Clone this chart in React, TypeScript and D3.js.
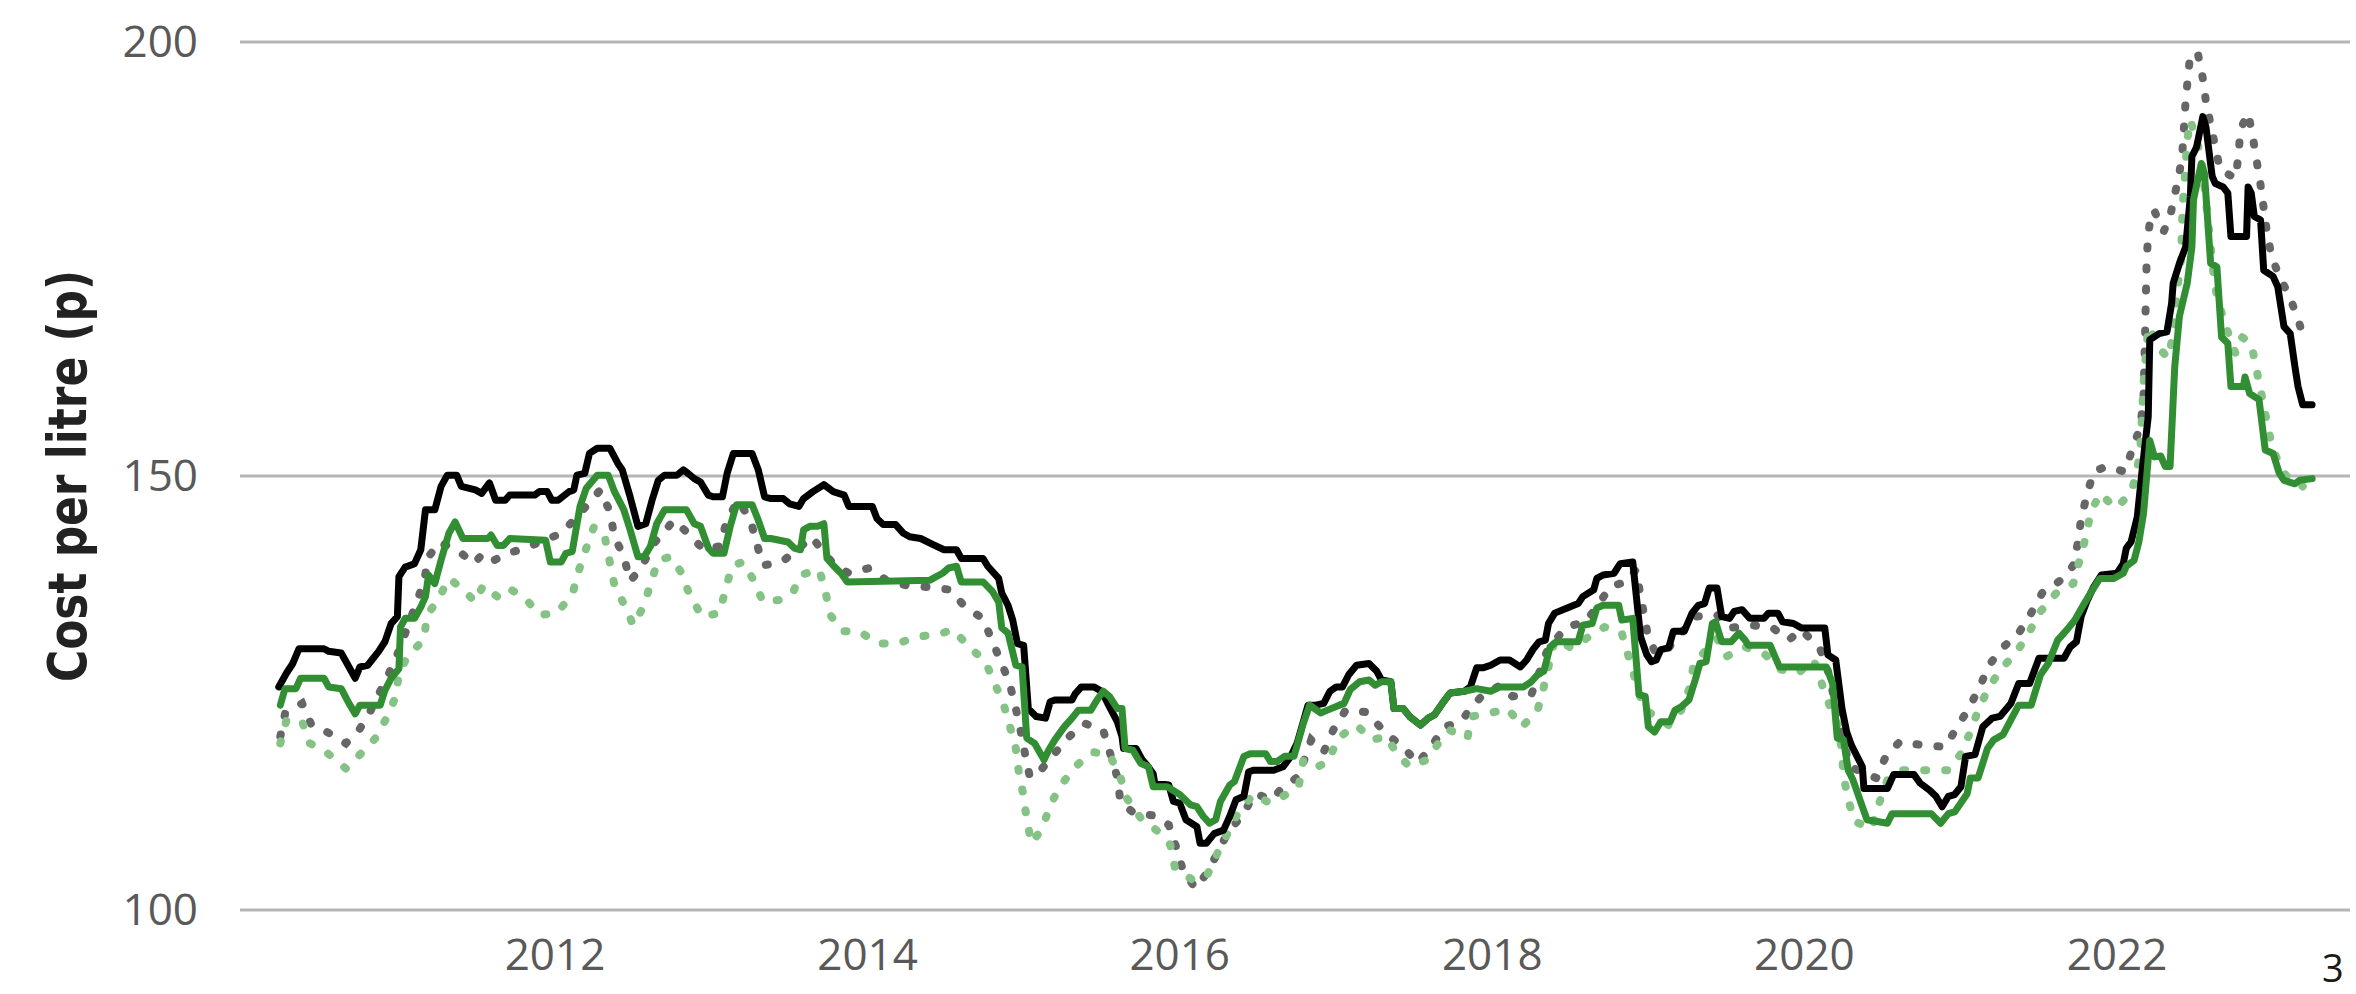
import React from 'react';
import * as d3 from 'd3';

// [decimal year, pence per litre]
const blackLine: [number, number][] = [
  [2010.23,125.7],[2010.28,127.3],[2010.32,128.4],[2010.36,130.1],[2010.52,130.1],[2010.55,129.8],[2010.63,129.6],[2010.68,128.0],[2010.72,126.7],[2010.75,128.0],[2010.80,128.2],[2010.87,129.8],[2010.91,130.9],[2010.95,133.0],[2010.99,133.8],[2011.00,138.4],[2011.04,139.5],[2011.10,139.9],[2011.14,141.5],[2011.17,146.1],[2011.23,146.1],[2011.27,148.8],[2011.31,150.1],[2011.37,150.1],[2011.40,148.8],[2011.49,148.4],[2011.53,148.0],[2011.58,149.2],[2011.62,147.2],[2011.68,147.2],[2011.71,147.8],[2011.87,147.8],[2011.90,148.2],[2011.95,148.2],[2011.98,147.2],[2012.02,147.2],[2012.09,148.2],[2012.12,148.4],
  [2012.14,150.1],[2012.19,150.3],[2012.22,152.6],[2012.27,153.2],[2012.35,153.2],[2012.40,151.5],[2012.43,150.7],[2012.48,147.6],[2012.53,144.2],[2012.58,144.5],[2012.62,147.2],[2012.66,149.5],[2012.70,150.1],[2012.78,150.1],[2012.82,150.7],[2012.85,150.3],[2012.89,149.7],[2012.93,149.3],[2012.98,147.8],[2013.01,147.6],[2013.07,147.6],[2013.10,150.3],[2013.14,152.6],[2013.26,152.6],[2013.30,150.7],[2013.34,147.6],[2013.38,147.4],[2013.46,147.4],[2013.50,146.8],[2013.56,146.5],[2013.59,147.4],[2013.65,148.2],[2013.72,149.0],[2013.78,148.2],[2013.85,147.8],[2013.88,146.5],[2014.03,146.5],[2014.06,145.1],[2014.10,144.4],[2014.18,144.4],[2014.23,143.4],[2014.27,143.0],[2014.34,142.8],
  [2014.42,142.1],[2014.49,141.5],[2014.57,141.5],[2014.60,140.5],[2014.74,140.5],[2014.77,139.6],[2014.84,138.2],[2014.86,136.5],[2014.90,135.1],[2014.93,133.4],[2014.96,130.7],[2015.00,130.5],[2015.03,123.2],[2015.08,122.3],[2015.14,122.1],[2015.17,124.0],[2015.20,124.2],[2015.31,124.2],[2015.33,124.9],[2015.37,125.7],[2015.45,125.7],[2015.50,125.2],[2015.55,123.4],[2015.60,121.7],[2015.63,120.0],[2015.64,118.6],[2015.72,118.6],[2015.76,117.3],[2015.79,116.7],[2015.83,115.7],[2015.84,114.6],[2015.93,114.4],[2015.96,112.5],[2016.00,112.3],[2016.04,110.4],[2016.11,109.6],[2016.13,107.7],[2016.17,107.7],[2016.22,108.8],[2016.28,109.2],[2016.32,110.8],[2016.36,112.7],[2016.41,113.1],[2016.44,115.9],[2016.47,116.1],[2016.60,116.1],
  [2016.66,116.5],[2016.71,117.7],[2016.75,119.2],[2016.82,123.6],[2016.87,123.6],[2016.92,123.8],[2016.96,125.2],[2017.00,125.7],[2017.04,125.7],[2017.08,127.1],[2017.13,128.2],[2017.21,128.4],[2017.26,127.5],[2017.29,126.5],[2017.35,126.3],[2017.37,123.2],[2017.43,123.2],[2017.47,122.3],[2017.54,121.3],[2017.59,122.1],[2017.63,122.5],[2017.68,123.8],[2017.73,125.0],[2017.82,125.2],[2017.86,125.7],[2017.90,127.9],[2017.94,127.9],[2017.99,128.2],[2018.05,128.8],[2018.11,128.8],[2018.18,128.0],[2018.22,128.8],[2018.26,130.0],[2018.30,130.9],[2018.34,131.1],[2018.36,133.0],[2018.40,134.2],[2018.48,134.8],[2018.55,135.3],[2018.58,136.1],[2018.65,136.9],[2018.67,138.2],[2018.71,138.6],[2018.78,138.8],[2018.82,139.9],[2018.90,140.1],
  [2018.95,131.5],[2018.99,129.4],[2019.02,128.6],[2019.05,128.8],[2019.08,130.0],[2019.13,130.2],[2019.16,132.1],[2019.23,132.1],[2019.28,134.2],[2019.32,135.1],[2019.36,135.3],[2019.39,137.1],[2019.44,137.1],[2019.47,133.8],[2019.52,133.6],[2019.55,134.4],[2019.60,134.6],[2019.65,133.6],[2019.74,133.6],[2019.77,134.2],[2019.83,134.2],[2019.86,133.2],[2019.93,133.0],[2019.98,132.5],[2020.13,132.5],[2020.15,129.4],[2020.20,128.8],[2020.24,123.2],[2020.27,120.5],[2020.30,119.0],[2020.37,116.5],[2020.38,114.0],[2020.53,114.0],[2020.57,115.6],[2020.70,115.6],[2020.74,114.6],[2020.80,113.8],[2020.84,113.1],[2020.88,111.9],[2020.92,113.1],[2020.96,113.3],[2021.00,114.2],
  [2021.03,117.7],[2021.09,117.9],[2021.14,121.1],[2021.20,122.1],[2021.25,122.3],[2021.32,123.8],[2021.37,126.1],[2021.44,126.1],[2021.50,129.0],[2021.66,129.0],[2021.70,130.3],[2021.74,130.9],[2021.77,133.8],[2021.81,135.7],[2021.85,137.2],[2021.90,138.6],[2022.00,138.8],[2022.04,139.9],[2022.06,141.7],[2022.09,142.4],[2022.13,145.3],[2022.16,150.5],
  [2022.20,156.8],[2022.21,165.7],[2022.27,166.4],[2022.32,166.6],[2022.35,169.9],[2022.36,172.2],[2022.40,174.5],[2022.44,176.4],[2022.47,182.2],[2022.48,186.8],[2022.51,187.9],[2022.55,191.4],[2022.57,190.2],[2022.61,184.5],[2022.63,183.7],[2022.68,183.3],[2022.71,182.6],[2022.73,177.6],[2022.83,177.6],[2022.84,183.3],[2022.86,182.6],[2022.88,179.9],[2022.92,179.5],[2022.94,173.7],[2023.00,173.0],[2023.03,171.8],[2023.07,167.2],[2023.11,166.4],[2023.14,162.6],[2023.16,160.3],[2023.19,158.2],[2023.25,158.2]
];

const greenLine: [number, number][] = [
  [2010.24,123.6],[2010.27,125.5],[2010.34,125.5],[2010.37,126.7],[2010.52,126.7],[2010.55,125.7],[2010.63,125.5],[2010.68,123.8],[2010.72,122.6],[2010.75,123.6],[2010.88,123.6],[2010.91,125.3],[2010.95,126.7],[2011.00,127.8],[2011.01,132.6],[2011.04,133.6],[2011.10,133.6],[2011.14,134.9],[2011.17,136.1],[2011.19,138.6],[2011.23,137.6],[2011.27,140.3],[2011.32,143.4],[2011.36,144.7],[2011.41,142.8],[2011.57,142.8],[2011.59,143.2],[2011.63,142.0],[2011.67,142.0],[2011.71,142.8],[2011.94,142.6],[2011.97,140.1],[2012.04,140.1],[2012.07,141.1],[2012.11,141.3],
  [2012.16,146.5],[2012.20,148.6],[2012.27,150.1],[2012.34,150.1],[2012.38,148.2],[2012.44,146.1],[2012.48,143.8],[2012.53,140.7],[2012.57,140.7],[2012.61,141.9],[2012.65,144.5],[2012.70,146.1],[2012.84,146.1],[2012.89,144.5],[2012.93,144.2],[2012.98,141.7],[2013.01,141.1],[2013.08,141.1],[2013.12,144.2],[2013.16,146.7],[2013.26,146.7],[2013.30,144.9],[2013.34,142.8],[2013.38,142.8],[2013.49,142.4],[2013.53,141.7],[2013.57,141.5],[2013.59,143.8],[2013.63,144.2],[2013.68,144.2],[2013.72,144.5],[2013.74,140.5],[2013.78,139.7],[2013.83,138.8],[2013.87,137.8],[2014.40,138.0],
  [2014.48,138.8],[2014.52,139.4],[2014.57,139.6],[2014.60,137.8],[2014.74,137.8],[2014.80,136.7],[2014.84,135.5],[2014.86,132.5],[2014.90,131.9],[2014.95,128.2],[2014.99,128.0],[2015.02,119.8],[2015.07,119.2],[2015.13,117.3],[2015.16,118.4],[2015.20,119.6],[2015.26,121.1],[2015.31,122.1],[2015.35,123.0],[2015.43,123.0],[2015.47,124.2],[2015.51,125.2],[2015.55,124.6],[2015.60,123.2],[2015.63,123.2],[2015.65,118.6],[2015.70,118.4],[2015.75,116.9],[2015.80,116.5],[2015.83,114.2],[2015.92,114.2],[2016.00,113.3],[2016.07,112.1],[2016.11,111.9],[2016.15,110.8],[2016.19,110.0],[2016.23,110.4],[2016.26,112.5],[2016.32,114.4],[2016.35,114.8],[2016.41,117.7],[2016.45,118.0],[2016.55,118.0],[2016.58,117.1],
  [2016.62,117.1],[2016.67,117.7],[2016.73,117.7],[2016.76,119.6],[2016.79,121.5],[2016.83,123.6],[2016.90,122.7],[2016.94,123.0],[2017.02,123.6],[2017.05,123.8],[2017.09,125.4],[2017.15,126.3],[2017.21,126.5],[2017.25,125.9],[2017.29,126.3],[2017.35,126.3],[2017.37,123.2],[2017.43,123.2],[2017.47,122.3],[2017.54,121.3],[2017.59,122.1],[2017.63,122.5],[2017.68,123.8],[2017.73,125.0],[2017.82,125.2],[2017.90,125.5],[2017.99,125.2],[2018.05,125.7],[2018.20,125.7],[2018.25,126.3],[2018.29,127.1],[2018.33,127.5],[2018.37,130.3],[2018.41,130.9],[2018.55,130.9],[2018.58,132.8],[2018.64,133.0],[2018.67,134.8],[2018.71,135.1],[2018.81,135.1],[2018.83,133.4],[2018.90,133.6],
  [2018.94,124.8],[2018.98,124.6],[2019.00,121.1],[2019.04,120.5],[2019.08,121.7],[2019.14,121.7],[2019.17,123.0],[2019.21,123.4],[2019.26,124.2],[2019.30,126.5],[2019.33,128.4],[2019.37,128.6],[2019.41,133.0],[2019.43,133.2],[2019.47,130.9],[2019.53,130.9],[2019.58,131.9],[2019.62,131.1],[2019.64,130.5],[2019.78,130.5],[2019.84,128.0],[2020.14,128.0],[2020.18,126.1],[2020.21,119.8],[2020.25,119.6],[2020.28,116.1],[2020.31,115.0],[2020.37,111.9],[2020.40,110.4],[2020.53,110.0],[2020.56,111.1],[2020.81,111.1],[2020.87,110.0],[2020.92,111.1],[2020.96,111.3],
  [2021.04,113.4],[2021.06,115.2],[2021.11,115.2],[2021.17,118.6],[2021.21,119.6],[2021.27,120.2],[2021.32,121.9],[2021.37,123.6],[2021.45,123.6],[2021.51,127.1],[2021.56,128.4],[2021.62,131.1],[2021.68,132.3],[2021.73,133.4],[2021.79,135.3],[2021.83,136.5],[2021.89,138.2],[2021.98,138.2],[2022.04,138.8],[2022.06,139.6],[2022.11,140.3],[2022.14,142.4],[2022.17,145.7],[2022.21,154.1],[2022.24,152.2],[2022.28,152.3],[2022.31,151.1],[2022.34,151.1],
  [2022.37,162.6],[2022.40,168.4],[2022.45,172.2],[2022.48,176.4],[2022.49,181.8],[2022.54,186.0],[2022.56,184.9],[2022.60,174.5],[2022.64,174.1],[2022.67,166.0],[2022.71,165.3],[2022.73,160.3],[2022.81,160.3],[2022.82,161.4],[2022.85,159.5],[2022.91,158.8],[2022.95,153.0],[2023.00,152.6],[2023.04,150.3],[2023.07,149.5],[2023.14,149.1],[2023.17,149.5],[2023.25,149.7]
];

const greyDotted: [number, number][] = [
  [2010.24,120.0],[2010.27,122.6],[2010.38,123.8],[2010.44,121.3],[2010.54,120.5],[2010.66,119.2],[2010.75,120.9],[2010.82,123.0],[2010.95,127.8],[2011.00,129.9],[2011.11,135.3],[2011.16,137.8],[2011.19,140.7],[2011.26,142.4],[2011.40,141.1],[2011.48,139.9],[2011.54,141.1],[2011.61,140.3],[2011.70,141.1],[2011.81,141.7],[2012.04,143.4],[2012.13,145.1],
  [2012.29,148.4],[2012.35,145.9],[2012.38,143.0],[2012.44,140.7],[2012.48,137.9],[2012.55,139.4],[2012.63,142.2],[2012.76,144.9],[2012.85,143.4],[2012.95,141.5],[2013.05,141.9],[2013.10,144.9],[2013.17,147.2],[2013.25,144.9],[2013.29,142.2],[2013.33,139.7],[2013.45,140.1],[2013.55,141.5],[2013.64,143.0],[2013.78,139.9],[2013.88,138.8],[2014.01,139.4],[2014.12,138.0],[2014.25,137.4],[2014.39,137.2],
  [2014.53,136.9],[2014.63,134.8],[2014.74,133.6],[2014.80,130.9],[2014.86,128.4],[2014.91,126.1],[2014.95,123.2],[2014.98,120.7],[2015.01,117.9],[2015.04,115.3],[2015.10,115.9],[2015.28,119.8],[2015.39,121.5],[2015.51,120.7],[2015.60,115.3],[2015.62,112.5],[2015.71,111.1],[2015.83,110.9],[2015.93,109.8],[2015.98,107.1],[2016.02,104.6],[2016.10,102.5],[2016.18,104.4],[2016.25,106.9],[2016.31,109.0],[2016.40,110.9],[2016.48,113.4],[2016.59,112.7],
  [2016.65,114.0],[2016.76,115.4],[2016.84,119.6],[2016.92,118.2],[2016.98,120.7],[2017.06,123.0],[2017.20,122.8],[2017.27,121.3],[2017.34,120.0],[2017.43,118.8],[2017.52,116.9],[2017.61,118.8],[2017.69,121.1],[2017.80,121.7],[2017.86,123.2],[2017.93,124.6],[2018.05,125.9],[2018.13,124.6],[2018.25,124.8],[2018.35,129.8],[2018.47,132.6],[2018.60,133.2],[2018.69,135.5],[2018.76,137.3],[2018.86,137.8],
  [2018.92,139.2],[2019.00,131.3],[2019.05,129.5],[2019.12,130.0],[2019.20,131.7],[2019.30,133.8],[2019.44,134.0],[2019.52,132.5],[2019.66,132.8],[2019.79,132.6],[2019.90,131.1],[2019.98,132.3],[2020.10,130.1],[2020.16,127.0],[2020.22,121.5],[2020.29,116.5],[2020.46,115.2],[2020.52,117.7],[2020.61,119.4],[2020.75,119.0],[2020.90,118.8],[2020.97,120.9],[2021.05,123.2],[2021.12,125.7],
  [2021.18,128.2],[2021.26,130.1],[2021.37,131.9],[2021.45,134.2],[2021.52,136.5],[2021.64,138.0],[2021.72,139.7],[2021.75,142.4],[2021.77,145.1],[2021.81,148.0],[2021.85,150.5],[2021.93,151.1],[2022.05,150.5],[2022.10,153.2],[2022.15,155.7],[2022.17,159.1],[2022.18,166.4],[2022.19,174.9],[2022.20,177.8],[2022.22,180.5],[2022.24,180.5],[2022.30,178.2],[2022.34,179.9],[2022.37,182.4],[2022.40,184.9],[2022.42,187.6],[2022.44,193.3],[2022.47,198.7],[2022.52,198.5],[2022.55,195.8],[2022.57,193.1],[2022.66,185.3],[2022.76,184.3],[2022.78,187.2],[2022.79,189.9],[2022.84,191.8],[2022.87,189.1],[2022.92,183.5],[2022.96,178.2],[2022.99,175.3],[2023.04,173.0],[2023.11,170.5],[2023.16,168.0],[2023.21,165.3]
];

const greenDotted: [number, number][] = [
  [2010.24,119.2],[2010.28,121.9],[2010.38,121.7],[2010.43,119.2],[2010.54,118.1],[2010.66,116.3],[2010.75,117.9],[2010.85,119.8],[2010.92,122.1],[2010.98,124.6],[2011.00,127.3],[2011.06,129.4],[2011.16,131.1],[2011.18,134.0],[2011.25,135.7],[2011.32,138.2],[2011.40,137.1],[2011.49,135.5],[2011.54,137.4],[2011.63,136.1],[2011.70,137.1],[2011.81,135.9],[2011.90,134.0],[2012.01,134.2],[2012.11,136.3],
  [2012.15,139.0],[2012.20,141.7],[2012.25,144.2],[2012.32,142.8],[2012.35,140.1],[2012.38,137.4],[2012.45,134.9],[2012.50,132.8],[2012.57,135.1],[2012.61,137.6],[2012.66,140.3],[2012.74,140.7],[2012.81,138.8],[2012.86,136.3],[2012.94,133.8],[2013.05,134.2],[2013.09,136.9],[2013.13,139.6],[2013.20,140.1],[2013.27,138.0],[2013.33,135.5],[2013.43,135.7],[2013.52,136.5],[2013.57,138.6],[2013.69,139.2],[2013.73,136.7],[2013.76,134.0],[2013.84,132.1],[2013.95,132.1],[2014.06,130.7],[2014.19,130.7],[2014.32,131.5],
  [2014.44,131.7],[2014.55,132.3],[2014.66,130.1],[2014.75,128.8],[2014.81,126.3],[2014.87,123.8],[2014.91,121.3],[2014.95,118.6],[2014.97,115.7],[2015.00,113.1],[2015.02,110.4],[2015.05,107.7],[2015.12,109.4],[2015.17,112.1],[2015.24,114.4],[2015.33,116.5],[2015.44,118.2],[2015.55,117.9],[2015.62,115.3],[2015.66,112.9],[2015.75,110.6],[2015.85,109.2],[2015.94,107.5],[2015.97,104.8],[2016.08,103.5],[2016.17,103.8],[2016.24,106.5],[2016.37,111.1],[2016.47,113.3],[2016.58,112.3],
  [2016.66,113.1],[2016.76,114.2],[2016.79,117.3],[2016.88,116.5],[2016.95,117.1],[2017.01,119.8],[2017.13,121.3],[2017.23,119.6],[2017.32,120.0],[2017.39,118.0],[2017.47,116.5],[2017.58,117.3],[2017.67,119.6],[2017.73,120.7],[2017.84,119.8],[2017.87,122.3],[2017.99,122.7],[2018.10,123.2],[2018.19,121.1],[2018.29,123.0],[2018.33,125.7],[2018.40,131.1],[2018.51,130.2],[2018.62,131.5],[2018.72,132.6],[2018.83,131.9],[2018.87,129.4],
  [2018.97,123.2],[2019.13,121.3],[2019.21,123.0],[2019.27,125.9],[2019.29,128.4],[2019.44,131.3],[2019.50,129.2],[2019.62,130.3],[2019.75,129.4],[2019.85,127.7],[2019.96,127.3],[2020.06,128.8],[2020.11,126.1],[2020.16,123.6],[2020.22,121.1],[2020.24,118.0],[2020.25,115.4],[2020.28,112.7],[2020.32,110.2],[2020.43,109.4],[2020.47,111.9],[2020.53,115.0],[2020.63,116.1],[2020.78,116.1],[2020.92,116.1],[2021.00,118.0],[2021.06,120.5],[2021.11,123.0],
  [2021.18,125.7],[2021.26,127.8],[2021.36,129.8],[2021.44,132.1],[2021.51,134.4],[2021.61,136.5],[2021.72,137.6],[2021.76,140.3],[2021.80,143.0],[2021.83,145.7],[2021.89,148.0],[2021.99,146.3],[2022.09,148.0],[2022.13,150.7],[2022.15,153.4],[2022.17,160.7],[2022.20,167.2],[2022.28,164.5],[2022.33,163.6],[2022.36,166.4],[2022.39,172.0],[2022.41,174.9],[2022.42,181.0],[2022.44,185.8],[2022.45,188.7],[2022.47,191.0],[2022.54,186.8],[2022.62,173.0],[2022.64,170.7],[2022.69,167.6],[2022.76,164.1],[2022.80,166.0],[2022.86,165.3],[2022.89,162.6],[2022.92,159.9],[2022.95,157.2],[2022.98,154.5],[2023.02,152.2],[2023.08,150.1],[2023.19,148.8]
];

const yTicks = [100, 150, 200];
const xTickYears = [2012, 2014, 2016, 2018, 2020, 2022];

const W = 2356;
const H = 994;

// decimal year -> Date
const toDate = (t: number) => {
  const yr = Math.floor(t);
  const a = new Date(yr, 0, 1).getTime();
  const b = new Date(yr + 1, 0, 1).getTime();
  return new Date(a + (t - yr) * (b - a));
};

const x = d3.scaleTime()
  .domain([new Date(2012, 0, 1), new Date(2022, 0, 1)])
  .range([555, 2117]);

const y = d3.scaleLinear()
  .domain([100, 200])
  .range([910, 42]);

const line = d3.line<[number, number]>()
  .x(d => x(toDate(d[0])))
  .y(d => y(d[1]));

const tickFont = '"Open Sans", "Segoe UI", "Noto Sans", sans-serif';

export default function App() {
  return (
    <svg
      width={W}
      height={H}
      style={{ position: 'absolute', left: 0, top: 0, background: '#fff' }}
    >
      {/* gridlines */}
      {yTicks.map(t => (
        <line key={t} x1={240} x2={2350} y1={y(t)} y2={y(t)} stroke="#b5b5b5" strokeWidth={3} />
      ))}

      {/* y tick labels */}
      {yTicks.map(t => (
        <text key={t} x={198} y={y(t)} dy="0.35em" textAnchor="end"
          fontFamily={tickFont} fontSize={44} fill="#595959">{t}</text>
      ))}

      {/* x tick labels */}
      {xTickYears.map(yr => (
        <text key={yr} x={x(new Date(yr, 0, 1))} y={955} dy="0.35em" textAnchor="middle"
          fontFamily={tickFont} fontSize={44} fill="#595959">{yr}</text>
      ))}

      {/* footnote digit in the bottom-right corner */}
      <text x={2322} y={982} fontFamily={tickFont} fontSize={38} fill="#1a1a1a">3</text>

      {/* axis title */}
      <text
        transform="translate(86, 476) rotate(-90)"
        textAnchor="middle"
        fontFamily='"Liberation Sans Narrow", "DejaVu Sans Condensed", "Arial Narrow", sans-serif'
        fontWeight="bold"
        fontSize={54}
        fill="#222"
        textLength={412}
        lengthAdjust="spacingAndGlyphs"
      >Cost per litre (p)</text>

      {/* dotted series */}
      <path d={line(greyDotted) ?? ''} fill="none" stroke="#666666" strokeWidth={8}
        strokeDasharray="2 19" strokeLinecap="round" />
      <path d={line(greenDotted) ?? ''} fill="none" stroke="#85c285" strokeWidth={8}
        strokeDasharray="2 19" strokeLinecap="round" />

      {/* solid series */}
      <path d={line(blackLine) ?? ''} fill="none" stroke="#000" strokeWidth={7}
        strokeLinejoin="round" strokeLinecap="round" />
      <path d={line(greenLine) ?? ''} fill="none" stroke="#328e32" strokeWidth={7}
        strokeLinejoin="round" strokeLinecap="round" />
    </svg>
  );
}
